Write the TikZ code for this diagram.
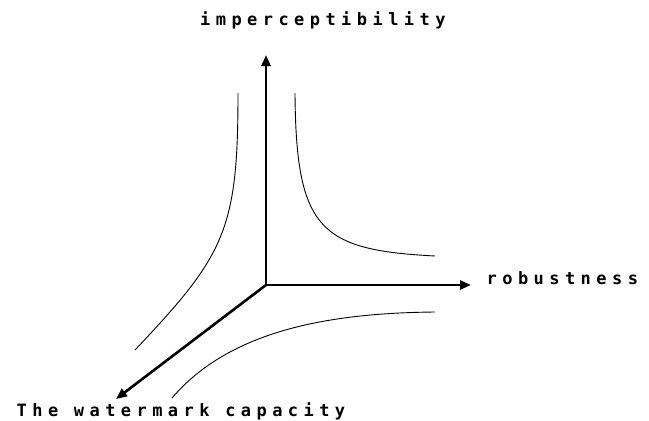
\documentclass[tikz,border=0pt]{standalone}
\usepackage{fontspec}
\newfontfamily\lblfont[LetterSpace=32]{DejaVu Sans Mono Bold}
\usetikzlibrary{arrows.meta}
\begin{document}
\begin{tikzpicture}[x=1pt,y=-1pt,
  axis/.style={line width=2.6pt,-{Triangle[length=11pt,width=9pt]}},
  curve/.style={line width=0.9pt},
  lbl/.style={inner sep=0pt,font=\lblfont\fontsize{17}{17}\selectfont}]
\useasboundingbox (0,0) rectangle (649,421);
\coordinate (O) at (266,285);
\coordinate (T) at (266,55);
\coordinate (R) at (471,285);
\coordinate (D) at (116,399);
\coordinate (a1) at (238,93);
\coordinate (a2) at (135,350);
\coordinate (b1) at (295,93);
\coordinate (b2) at (435,256);
\coordinate (c1) at (435,312);
\coordinate (c2) at (172,398);
\draw[axis] (O) -- (T);
\draw[axis] (O) -- (R);
\draw[axis] (O) -- (D);
\draw[curve] (a1) .. controls (238,230) and (225,255) .. (a2);
\draw[curve] (b1) .. controls (296,230) and (320,250) .. (b2);
\draw[curve] (c1) .. controls (330,313) and (230,330) .. (c2);
\node[lbl,anchor=west] (imp) at (200,20) {imperceptibility};
\node[lbl,anchor=west] (rob) at (486.5,278) {robustness};
\node[lbl,anchor=west] (cap) at (16.5,411.5) {The watermark capacity};
\end{tikzpicture}
\end{document}
